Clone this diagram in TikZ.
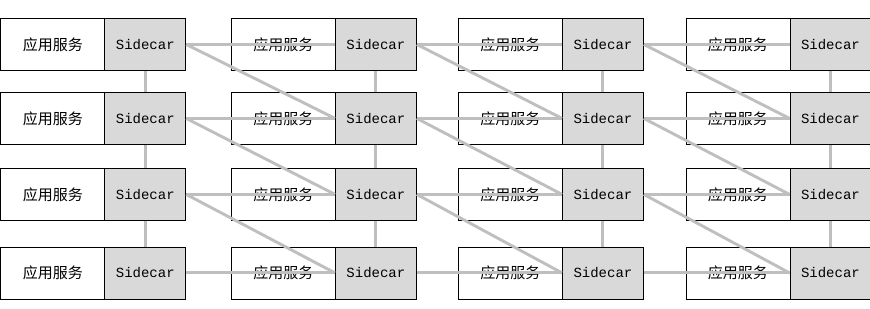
\documentclass[tikz,border=0pt]{standalone}
\usepackage{fontspec}
\newfontfamily\cjk{Noto Sans CJK SC}
\newfontfamily\monof{Liberation Mono}
\begin{document}
\begin{tikzpicture}[x=1pt,y=-1pt,
  appbox/.style={draw=black,line width=0.8pt,fill=white,minimum width=104pt,minimum height=52pt,inner sep=0pt,anchor=north west,font=\cjk\fontsize{15}{18}\selectfont},
  sidebox/.style={draw=black,line width=0.8pt,fill=black!15,minimum width=81pt,minimum height=52pt,inner sep=0pt,anchor=north west,font=\monof\fontsize{14}{16}\selectfont},
  link/.style={draw=black!25,line width=2.9pt}]
\useasboundingbox (0,0) rectangle (870,308);
\foreach \r/\yy in {1/18,2/92,3/168,4/246.5}{
  \foreach \c/\xx in {1/0.4,2/231,3/458,4/685.5}{
    \node[appbox] (a-\r-\c) at (\xx,\yy) {应用服务};
    \node[sidebox] (s-\r-\c) at (\xx+104,\yy) {Sidecar};
  }
}
% horizontal links
\foreach \r in {1,2,3,4}{
  \foreach \c/\n in {1/2,2/3,3/4}{
    \draw[link] (s-\r-\c.east) -- (s-\r-\n.west);
  }
}
% diagonal links
\foreach \r/\rn in {1/2,2/3,3/4}{
  \foreach \c/\n in {1/2,2/3,3/4}{
    \draw[link] (s-\r-\c.east) -- (s-\rn-\n.west);
  }
}
% vertical links
\foreach \r/\rn in {1/2,2/3,3/4}{
  \foreach \c in {1,2,3,4}{
    \draw[link] (s-\r-\c.south) -- (s-\rn-\c.north);
  }
}
\end{tikzpicture}
\end{document}
